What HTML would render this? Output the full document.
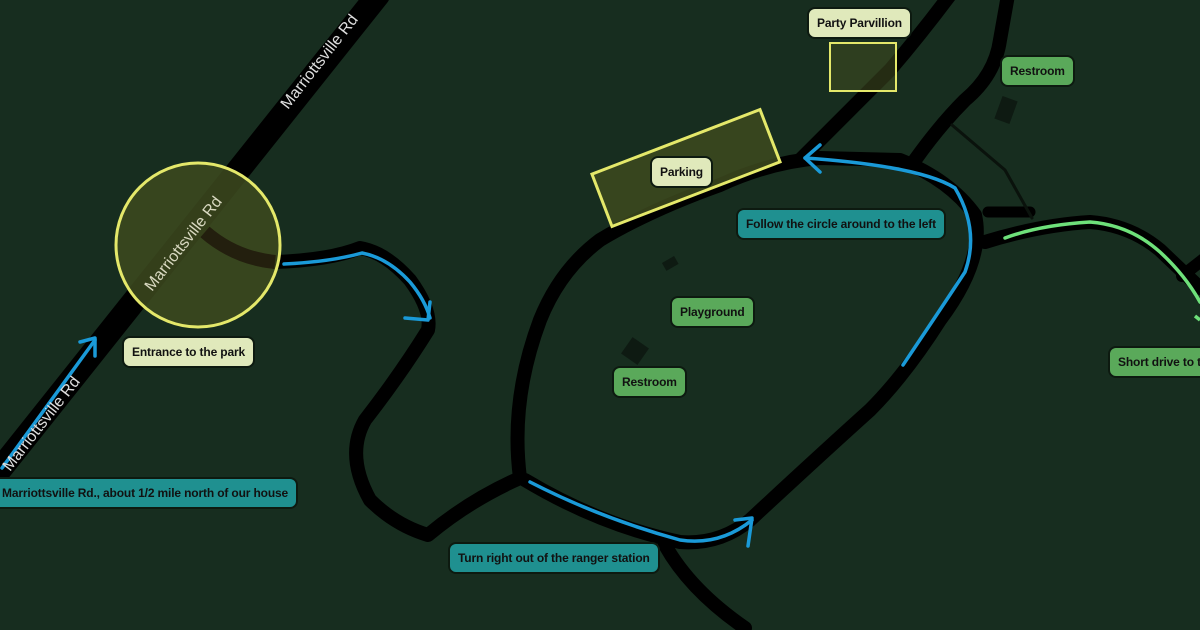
<!DOCTYPE html>
<html><head><meta charset="utf-8"><style>
html,body{margin:0;padding:0;width:1200px;height:630px;overflow:hidden;background:#172d1f}
svg{position:absolute;left:0;top:0}
.l{position:absolute;font:bold 12px "Liberation Sans",sans-serif;letter-spacing:-0.15px;color:#111;border:2px solid #0d1a10;border-radius:8px;height:32px;line-height:29px;padding:0 8px;box-sizing:border-box;white-space:nowrap}
.y{background:#e0e9bb}.g{background:#5aa95a}.t{background:#1f9090}
</style></head><body>
<svg width="1200" height="630" viewBox="0 0 1200 630">
<g fill="none" stroke="#000" stroke-linecap="round" stroke-linejoin="round">
<line x1="378" y1="-5" x2="-10" y2="482" stroke-width="24"/>
<path d="M205 232 Q235 258 275 262 Q330 260 360 248 Q385 252 410 280 Q432 310 428 330 Q400 375 365 420 Q345 455 370 500 Q395 525 428 535 Q470 500 520 478" stroke-width="14"/>
<path d="M520 478 Q510 400 540 320 Q560 270 600 240 Q650 210 720 185 Q770 162 820 158 L900 160 Q950 180 975 215 Q985 260 940 320 Q905 375 870 410 Q820 455 750 520 Q720 545 680 542 Q600 525 525 480" stroke-width="14"/>
<path d="M665 545 Q690 590 745 628" stroke-width="14"/>
<path d="M800 160 Q850 110 890 70 Q920 35 950 -5" stroke-width="14"/>
<path d="M915 160 Q940 125 965 100 Q995 75 1000 40 L1008 -5" stroke-width="14"/>
<path d="M985 242 Q1040 225 1090 222 Q1130 225 1160 250 L1200 288" stroke-width="14"/>
<path d="M1182 276 L1205 258" stroke-width="12"/>
<path d="M988 212 L1030 212" stroke-width="11"/>
<path d="M952 125 L1005 170 L1032 218" stroke-width="3" stroke="#0a120c"/>
</g>
<rect x="998" y="98" width="16" height="24" fill="#0e1a12" transform="rotate(20 1006 110)"/>
<rect x="625" y="341" width="20" height="20" fill="#0e1a12" transform="rotate(35 635 351)"/>
<rect x="663" y="259" width="14" height="9" fill="#0e1a12" transform="rotate(-30 670 263)"/>
<g fill="#3d4a1f" fill-opacity="0.85" stroke="#e4e86a" stroke-width="3">
<circle cx="198" cy="245" r="82"/>
<rect x="596" y="140" width="180" height="56" transform="rotate(-21 686 168)"/>
<rect x="830" y="43" width="66" height="48" stroke-width="2" fill-opacity="0.6"/>
</g>
<path d="M205 232 Q235 258 275 262" stroke="#231f0e" stroke-width="14" fill="none"/>
<g fill="none" stroke="#1a9ad8" stroke-width="3.5" stroke-linecap="round" stroke-linejoin="round">
<path d="M2 468 L95 340"/><path d="M80 342 L95 338 L95 356"/>
<path d="M284 264 Q330 262 362 253 Q388 258 410 282 Q425 300 430 318"/><path d="M405 318 L428 320 L430 302"/>
<path d="M530 482 Q600 518 680 540 Q720 546 752 520"/><path d="M735 520 L752 518 L748 546"/>
<path d="M903 365 Q940 310 965 272 Q980 230 955 188 Q920 166 805 158"/><path d="M820 145 L805 158 L820 172"/>
</g>
<path d="M1005 238 Q1040 225 1090 222 Q1130 225 1160 252 Q1185 275 1200 302" fill="none" stroke="#6ee07a" stroke-width="3.5" stroke-linecap="round"/>
<path d="M1195 316 L1200 320" stroke="#6ee07a" stroke-width="3.5"/>
<text transform="translate(288 110) rotate(-52)" font-family="Liberation Sans,sans-serif" font-size="16" fill="#ddd">Marriottsville Rd</text>
<text transform="translate(152 292) rotate(-52)" font-family="Liberation Sans,sans-serif" font-size="16" fill="#d8d8c0">Marriottsville Rd</text>
<text transform="translate(10 472) rotate(-52)" font-family="Liberation Sans,sans-serif" font-size="16" fill="#ddd">Marriottsville Rd</text>
</svg>
<div class="l y" style="left:807px;top:7px">Party Parvillion</div>
<div class="l g" style="left:1000px;top:55px">Restroom</div>
<div class="l y" style="left:650px;top:156px">Parking</div>
<div class="l t" style="left:736px;top:208px">Follow the circle around to the left</div>
<div class="l g" style="left:670px;top:296px">Playground</div>
<div class="l g" style="left:612px;top:366px">Restroom</div>
<div class="l y" style="left:122px;top:336px">Entrance to the park</div>
<div class="l t" style="left:-8px;top:477px">Marriottsville Rd., about 1/2 mile north of our house</div>
<div class="l t" style="left:448px;top:542px">Turn right out of the ranger station</div>
<div class="l g" style="left:1108px;top:346px;padding-right:40px">Short drive to the</div>
</body></html>
